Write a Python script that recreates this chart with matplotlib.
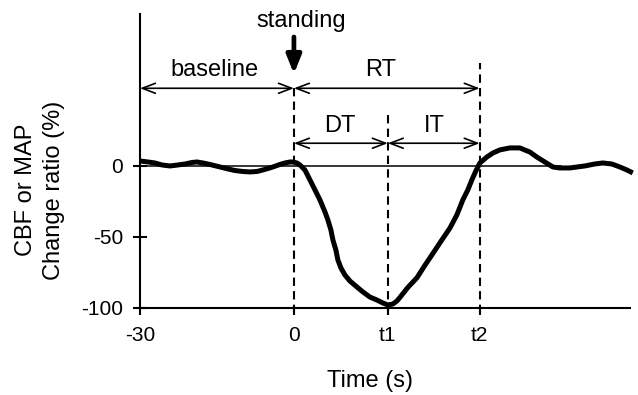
import matplotlib
matplotlib.use('Agg')
import matplotlib.pyplot as plt

plt.rcParams['font.family'] = ['Liberation Sans', 'DejaVu Sans']

# ---- data ----
time_s = [-30.0, -28.44, -27.08, -25.72, -24.16, -22.60, -21.24, -19.87, -18.90, -17.73,
          -16.37, -14.42, -12.86, -11.50, -9.94, -8.57, -7.21, -6.04, -5.07, -4.09,
          -2.73, -1.75, -0.78, -0.19, 0.58, 1.17, 2.14, 3.12, 4.09, 5.07,
          6.04, 6.62, 7.21, 7.60, 8.18, 8.57, 9.16, 9.94, 10.91, 12.27,
          13.44, 14.81, 16.17, 17.34, 18.31, 19.29, 20.07, 20.65, 22.21, 23.96,
          25.52, 27.08, 28.83, 30.39, 31.75, 32.92, 33.90, 34.68, 35.46, 36.24,
          37.60, 38.77, 40.13, 42.08, 44.03, 45.98, 47.34, 48.90, 50.46, 51.82,
          53.77, 56.69, 58.64, 60.20, 61.95, 63.51, 64.87, 66.04]
ratio = [3.3, 2.6, 1.9, 0.5, -0.2, 0.5, 1.2, 2.25, 2.6, 1.9,
         0.85, -0.9, -2.3, -3.4, -4.1, -4.4, -4.1, -3.0, -2.0, -0.9,
         0.85, 1.9, 2.6, 2.6, 1.9, 0.5, -3.0, -10.0, -17.0, -24.1,
         -32.5, -38.2, -45.3, -52.3, -59.4, -66.4, -72.0, -77.0, -81.2, -85.4,
         -88.9, -92.5, -94.6, -96.7, -98.1, -97.4, -95.3, -92.8, -85.7, -79.0,
         -70.2, -61.8, -52.3, -44.0, -34.7, -24.1, -17.0, -10.0, -3.7, 1.9,
         6.1, 8.9, 11.1, 12.5, 12.5, 9.6, 6.1, 2.6, -0.9, -1.6,
         -1.6, -0.2, 1.2, 1.9, 1.2, -0.9, -3.0, -5.1]

t_stand = 0
t1 = 18.3
t2 = 36.2
x_start = -30
xticks = [x_start, t_stand, t1, t2]
xtick_labels = ['-30', '0', 't1', 't2']
yticks = [0, -50, -100]
ytick_labels = ['0', '-50', '-100']

fig = plt.figure(figsize=(6.38, 3.95), dpi=100)
ax = fig.add_axes([140/638, 87.3/395, 490/638, 293.7/395])
ax.set_xlim(-30, 65.5)
ax.set_ylim(-100, 106.8)

for s in ['top', 'right']:
    ax.spines[s].set_visible(False)
for s in ['left', 'bottom']:
    ax.spines[s].set_linewidth(1.5)

ax.set_xticks(xticks, xtick_labels)
ax.set_yticks(yticks, ytick_labels)
ax.tick_params(axis='y', direction='inout', length=10, width=1.5, pad=7, labelsize=15)
ax.tick_params(axis='x', direction='out', length=5, width=1.5, pad=8, labelsize=15)

# zero reference line
ax.plot([x_start, 52], [0, 0], color='black', lw=1.1, clip_on=False)

# dashed vertical markers
dash = (0, (4, 2.5))
ax.plot([t_stand, t_stand], [-104, 58.2], color='black', lw=1.5, ls=dash, clip_on=False)
ax.plot([t1, t1], [-104, 39.2], color='black', lw=1.5, ls=dash, clip_on=False)
ax.plot([t2, t2], [-104, 72.3], color='black', lw=1.5, ls=dash, clip_on=False)

# curve
ax.plot(time_s, ratio, color='black', lw=3.6, solid_joinstyle='round',
        solid_capstyle='butt', clip_on=False, zorder=5)

# double arrows
ap = dict(arrowstyle='<->,head_length=0.47,head_width=0.18', lw=1.2,
          color='black', shrinkA=0, shrinkB=0, mutation_scale=20)
y_top_arrow = 54.5
y_low_arrow = 15.8
ax.annotate('', xy=(t_stand, y_top_arrow), xytext=(x_start, y_top_arrow), arrowprops=ap)
ax.annotate('', xy=(t2, y_top_arrow), xytext=(t_stand, y_top_arrow), arrowprops=ap)
ax.annotate('', xy=(t1, y_low_arrow), xytext=(t_stand, y_low_arrow), arrowprops=ap)
ax.annotate('', xy=(t2, y_low_arrow), xytext=(t1, y_low_arrow), arrowprops=ap)

fs = 17
ax.text(-15.4, 63.2, 'baseline', ha='center', va='baseline', fontsize=fs)
ax.text(16.9, 63.2, 'RT', ha='center', va='baseline', fontsize=fs)
ax.text(9.0, 23.7, 'DT', ha='center', va='baseline', fontsize=fs)
ax.text(27.3, 23.7, 'IT', ha='center', va='baseline', fontsize=fs)
ax.text(1.4, 97.7, 'standing', ha='center', va='baseline', fontsize=fs)

# thick "standing" arrow
ax.annotate('', xy=(t_stand, 64.6), xytext=(t_stand, 90.6),
            arrowprops=dict(arrowstyle='-|>,head_length=0.55,head_width=0.22',
                            lw=3.4, color='black', shrinkA=0, shrinkB=0,
                            mutation_scale=20))

fig.text(40/638, 1 - 190/395, 'CBF or MAP\nChange ratio (%)', rotation=90,
         ha='center', va='center', fontsize=fs, linespacing=1.4,
         multialignment='center')
fig.text(370/638, 1 - 381/395, 'Time (s)', ha='center', va='center', fontsize=fs)

fig.savefig('out.png', dpi=100)
